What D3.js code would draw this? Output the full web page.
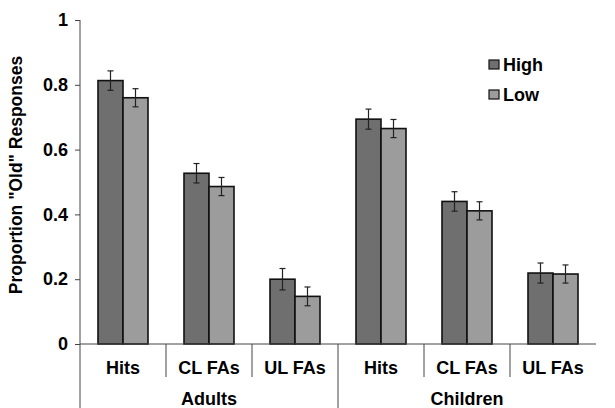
<!DOCTYPE html>
<html><head><meta charset="utf-8">
<script src="https://cdn.jsdelivr.net/npm/d3@7"></script>
<style>body{margin:0;background:#fff}svg{display:block}text{font-family:"Liberation Sans",Arial,sans-serif;font-weight:bold;fill:#000}</style>
</head><body>
<script>
const groups = ["Adults", "Children"];
const measures = ["Hits", "CL FAs", "UL FAs"];
const series = ["High", "Low"];
const highValues = [0.813, 0.527, 0.200, 0.694, 0.440, 0.219];
const lowValues  = [0.760, 0.486, 0.147, 0.665, 0.411, 0.216];
const highErrors = [0.030, 0.030, 0.033, 0.031, 0.030, 0.031];
const lowErrors  = [0.028, 0.028, 0.029, 0.028, 0.028, 0.028];
const yTicks = [0, 0.2, 0.4, 0.6, 0.8, 1];
const yTickLabels = ["0", "0.2", "0.4", "0.6", "0.8", "1"];
const colors = {High: "#6f6f6f", Low: "#9c9c9c"};

const W = 615, H = 408;
const svg = d3.select("body").append("svg").attr("width", W).attr("height", H);
const mLeft = 80, mRight = 596, mTop = 20, mBottom = 344;

const cats = [];
groups.forEach(g => measures.forEach(m => cats.push(g + "|" + m)));
const x = d3.scaleBand().domain(cats).range([mLeft, mRight]).padding(0);
const xs = d3.scaleBand().domain(series).range([0, x.bandwidth()]).paddingInner(0).paddingOuter(0.72);
const y = d3.scaleLinear().domain([0, 1]).range([mBottom, mTop]);

const data = [];
cats.forEach((c, i) => {
  data.push({cat: c, s: "High", v: highValues[i], e: highErrors[i]});
  data.push({cat: c, s: "Low", v: lowValues[i], e: lowErrors[i]});
});

// bars
svg.append("g").selectAll("rect").data(data).join("rect")
  .attr("x", d => x(d.cat) + xs(d.s))
  .attr("y", d => y(d.v))
  .attr("width", xs.bandwidth())
  .attr("height", d => y(0) - y(d.v))
  .attr("fill", d => colors[d.s])
  .attr("stroke", "#111").attr("stroke-width", 1.6);

// error bars
const eg = svg.append("g").attr("stroke", "#222").attr("stroke-width", 1.2);
data.forEach(d => {
  const cx = x(d.cat) + xs(d.s) + xs.bandwidth() / 2;
  eg.append("line").attr("x1", cx).attr("x2", cx).attr("y1", y(d.v + d.e)).attr("y2", y(d.v - d.e));
  eg.append("line").attr("x1", cx - 3).attr("x2", cx + 3).attr("y1", y(d.v + d.e)).attr("y2", y(d.v + d.e));
  eg.append("line").attr("x1", cx - 3).attr("x2", cx + 3).attr("y1", y(d.v - d.e)).attr("y2", y(d.v - d.e));
});

// y axis
const yAxis = d3.axisLeft(y).tickValues(yTicks).tickFormat((d, i) => yTickLabels[i]).tickSize(5).tickPadding(7);
const ya = svg.append("g").attr("transform", `translate(${mLeft},0)`).call(yAxis);
ya.select(".domain").remove();
ya.selectAll(".tick line").attr("stroke", "#444");
ya.selectAll(".tick text").attr("font-size", 18).attr("font-family", '"Liberation Sans",Arial,sans-serif').attr("font-weight", "bold").attr("fill", "#000");
svg.append("line").attr("x1", mLeft).attr("x2", mLeft).attr("y1", mTop).attr("y2", H).attr("stroke", "#444");

// x axis line
svg.append("line").attr("x1", mLeft).attr("x2", mRight).attr("y1", mBottom).attr("y2", mBottom).attr("stroke", "#444");

// category separators and labels
cats.forEach((c, i) => {
  if (i > 0) {
    const isGroup = i % measures.length === 0;
    svg.append("line").attr("x1", x(c)).attr("x2", x(c)).attr("y1", mBottom).attr("y2", isGroup ? H : 377).attr("stroke", "#444");
  }
  svg.append("text").attr("x", x(c) + x.bandwidth() / 2).attr("y", 373.5)
    .attr("text-anchor", "middle").attr("font-size", 18).text(c.split("|")[1]);
});
groups.forEach((g, gi) => {
  const x0 = x(g + "|" + measures[0]);
  const x1 = x(g + "|" + measures[measures.length - 1]) + x.bandwidth();
  svg.append("text").attr("x", (x0 + x1) / 2).attr("y", 404.5).attr("text-anchor", "middle").attr("font-size", 18).text(g);
});

// y title
svg.append("text").attr("transform", `translate(22,${(mTop + 330) / 2}) rotate(-90)`)
  .attr("text-anchor", "middle").attr("font-size", 17.5).text('Proportion "Old" Responses');

// legend
const lg = svg.append("g");
series.forEach((s, i) => {
  const ly = 60 + i * 30;
  lg.append("rect").attr("x", 489).attr("y", ly).attr("width", 10).attr("height", 9)
    .attr("fill", colors[s]).attr("stroke", "#111").attr("stroke-width", 1.2);
  lg.append("text").attr("x", 503).attr("y", ly + 11).attr("font-size", 18).text(s);
});
</script>
</body></html>
